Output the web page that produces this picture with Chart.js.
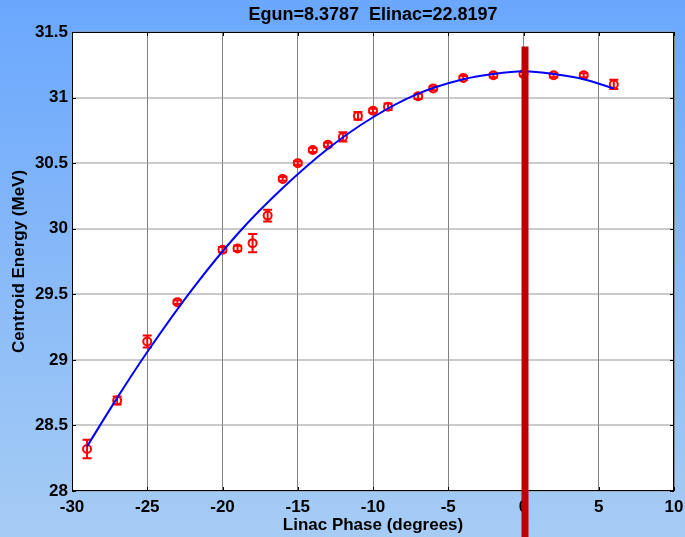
<!DOCTYPE html>
<html lang="en">
<head>
    <meta charset="UTF-8">
    <title>Linac Phase Scan</title>
    <script src="https://cdn.jsdelivr.net/npm/chart.js"></script>
    <style>
        body { margin: 0; }
        canvas { display: block; }
    </style>
</head>
<body>
    <canvas id="phaseChart" width="685" height="537"></canvas>

    <script>
        // Measured centroid energy vs linac phase
        const phase = [-29, -27, -25, -23, -20, -19, -18, -17, -16, -15, -14, -13, -12, -11, -10, -9, -7, -6, -4, -2, 0, 2, 4, 6];
        const energy = [28.32, 28.69, 29.14, 29.44, 29.84, 29.85, 29.89, 30.10, 30.38, 30.50, 30.60, 30.64, 30.70, 30.86, 30.90, 30.93, 31.01, 31.07, 31.15, 31.17, 31.18, 31.17, 31.17, 31.10];
        const energyErr = [0.07, 0.03, 0.045, 0.015, 0.02, 0.02, 0.07, 0.045, 0.015, 0.015, 0.015, 0.015, 0.035, 0.03, 0.015, 0.025, 0.02, 0.015, 0.015, 0.015, 0.015, 0.015, 0.015, 0.035];

        // Fitted curve
        const fitPhase = [-29, -27, -25, -22, -19, -16, -13, -10, -7, -4, -2, 0, 2, 4, 6];
        const fitEnergy = [28.34, 28.71, 29.06, 29.54, 29.96, 30.31, 30.61, 30.85, 31.03, 31.14, 31.18, 31.20, 31.18, 31.14, 31.07];

        // Chosen operating phase marker
        const markerPhase = 0.1;
        const markerTop = 31.39;

        const xTicks = [-30, -25, -20, -15, -10, -5, 0, 5, 10];
        const yTicks = [28, 28.5, 29, 29.5, 30, 30.5, 31, 31.5];

        const font = { family: '"Liberation Sans", Arial, sans-serif', size: 17, weight: 'bold' };
        const titleFont = { family: '"Liberation Sans", Arial, sans-serif', size: 18, weight: 'bold' };

        // blue figure background + white axes box
        const background = {
            id: 'background',
            beforeDraw(chart) {
                const { ctx, chartArea: a } = chart;
                ctx.save();
                const g = ctx.createLinearGradient(0, 0, 0, chart.height);
                g.addColorStop(0, '#6aa7fd');
                g.addColorStop(1, '#a6ccf4');
                ctx.fillStyle = g;
                ctx.fillRect(0, 0, chart.width, chart.height);
                ctx.fillStyle = '#ffffff';
                ctx.fillRect(a.left, a.top, a.right - a.left, a.bottom - a.top);
                ctx.restore();
            }
        };

        // vertical error bars with caps, drawn right after the markers
        const errorBars = {
            id: 'errorBars',
            afterDatasetDraw(chart, args) {
                if (args.index !== 1) return;
                const { ctx, scales: { x, y } } = chart;
                ctx.save();
                ctx.strokeStyle = '#ff0000';
                ctx.lineWidth = 2;
                phase.forEach((p, i) => {
                    const px = x.getPixelForValue(p);
                    const top = y.getPixelForValue(energy[i] + energyErr[i]);
                    const bot = y.getPixelForValue(energy[i] - energyErr[i]);
                    ctx.beginPath();
                    ctx.moveTo(px, top); ctx.lineTo(px, bot);
                    ctx.moveTo(px - 4.5, top); ctx.lineTo(px + 4.5, top);
                    ctx.moveTo(px - 4.5, bot); ctx.lineTo(px + 4.5, bot);
                    ctx.stroke();
                });
                ctx.restore();
            }
        };

        // box, inward tick marks and the phase marker on top
        const frame = {
            id: 'frame',
            afterDraw(chart) {
                const { ctx, chartArea: a, scales: { x, y } } = chart;
                ctx.save();
                ctx.strokeStyle = '#000000';
                ctx.lineWidth = 1;
                ctx.strokeRect(a.left + 0.5, a.top + 0.5, a.right - a.left - 1, a.bottom - a.top - 1);
                ctx.beginPath();
                xTicks.forEach(v => {
                    const px = Math.round(x.getPixelForValue(v)) + 0.5;
                    ctx.moveTo(px, a.top); ctx.lineTo(px, a.top + 4);
                    ctx.moveTo(px, a.bottom); ctx.lineTo(px, a.bottom - 4);
                });
                yTicks.forEach(v => {
                    const py = Math.round(y.getPixelForValue(v)) + 0.5;
                    ctx.moveTo(a.left, py); ctx.lineTo(a.left + 4, py);
                    ctx.moveTo(a.right, py); ctx.lineTo(a.right - 4, py);
                });
                ctx.stroke();

                ctx.strokeStyle = '#c00000';
                ctx.lineWidth = 7;
                const mx = x.getPixelForValue(markerPhase);
                ctx.beginPath();
                ctx.moveTo(mx, y.getPixelForValue(markerTop));
                ctx.lineTo(mx, chart.height);
                ctx.stroke();
                ctx.restore();
            }
        };

        const ctx = document.getElementById('phaseChart').getContext('2d');

        const chart = new Chart(ctx, {
            type: 'scatter',
            data: {
                datasets: [{
                    label: 'Fit',
                    data: fitPhase.map((p, i) => ({ x: p, y: fitEnergy[i] })),
                    showLine: true,
                    borderColor: '#0000ff',
                    borderWidth: 2,
                    pointRadius: 0,
                    cubicInterpolationMode: 'monotone'
                }, {
                    label: 'Centroid',
                    data: phase.map((p, i) => ({ x: p, y: energy[i] })),
                    showLine: false,
                    pointStyle: 'circle',
                    pointRadius: 4,
                    pointBorderWidth: 2,
                    borderColor: '#ff0000',
                    backgroundColor: 'rgba(0,0,0,0)'
                }]
            },
            options: {
                responsive: false,
                animation: false,
                layout: { padding: { top: 0, right: 11, left: 0, bottom: 0 } },
                plugins: {
                    legend: { display: false },
                    tooltip: { enabled: false },
                    title: {
                        display: true,
                        text: 'Egun=8.3787  Elinac=22.8197',
                        color: '#000000',
                        font: titleFont,
                        fullSize: false,
                        padding: { top: 4, bottom: 6.4 }
                    }
                },
                scales: {
                    x: {
                        type: 'linear',
                        min: -30,
                        max: 10,
                        afterBuildTicks: s => { s.ticks = xTicks.map(v => ({ value: v })); },
                        afterFit: s => { s.height = 46; s.paddingLeft = 0; s.paddingRight = 0; },
                        ticks: { color: '#000000', font: font, padding: 6, maxRotation: 0, autoSkip: false, callback: v => String(v) },
                        grid: { color: '#808080', lineWidth: 1, drawTicks: false },
                        border: { display: false },
                        title: { display: true, text: 'Linac Phase (degrees)', color: '#000000', font: font, padding: { top: 0, bottom: 1 } }
                    },
                    y: {
                        type: 'linear',
                        min: 28,
                        max: 31.5,
                        afterBuildTicks: s => { s.ticks = yTicks.map(v => ({ value: v })); },
                        afterFit: s => { s.width = 72; s.paddingTop = 0; s.paddingBottom = 0; },
                        ticks: { color: '#000000', font: font, padding: 4, autoSkip: false, callback: v => String(v) },
                        grid: { color: 'rgba(150,150,150,0.5)', lineWidth: 2, drawTicks: false },
                        border: { display: false },
                        title: { display: true, text: 'Centroid Energy (MeV)', color: '#000000', font: font, padding: { top: 9, bottom: 0 } }
                    }
                }
            },
            plugins: [background, errorBars, frame]
        });
    </script>
</body>
</html>
